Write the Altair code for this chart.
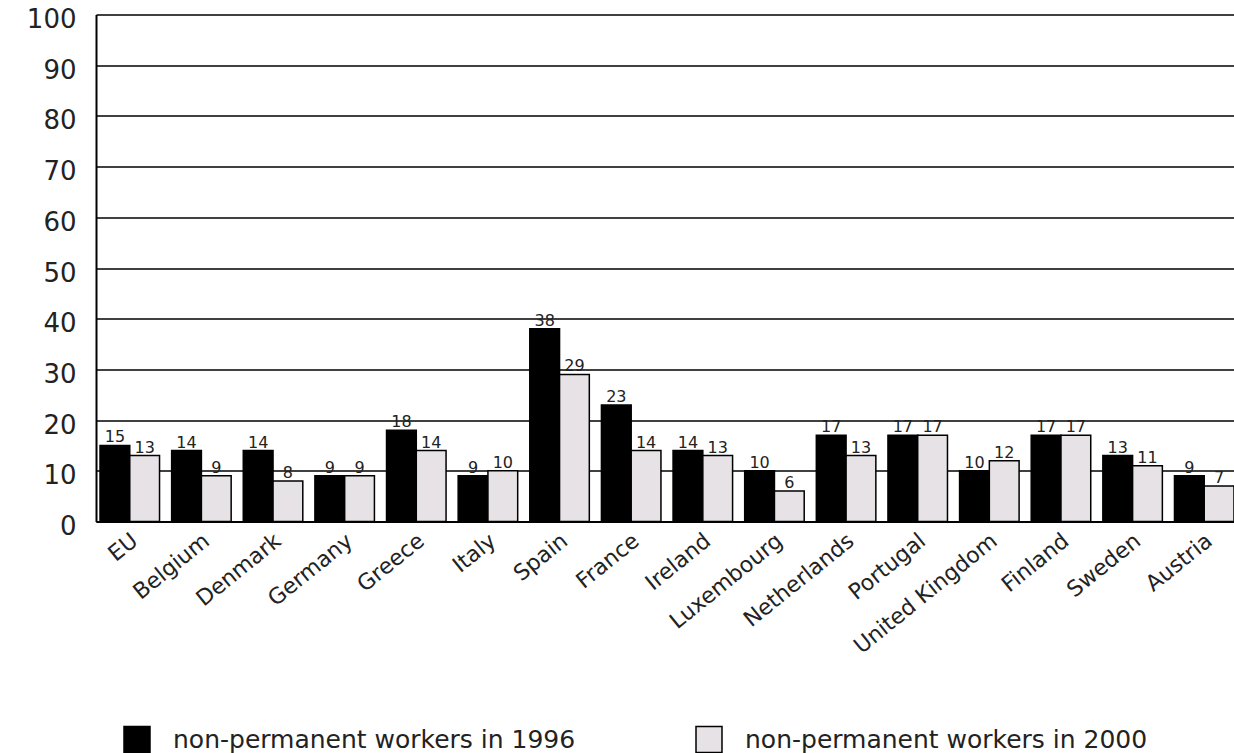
import altair as alt
import pandas as pd

countries = ["EU", "Belgium", "Denmark", "Germany", "Greece", "Italy", "Spain", "France",
             "Ireland", "Luxembourg", "Netherlands", "Portugal", "United Kingdom",
             "Finland", "Sweden", "Austria"]
v1996 = [15, 14, 14, 9, 18, 9, 38, 23, 14, 10, 17, 17, 10, 17, 13, 9]
v2000 = [13, 9, 8, 9, 14, 10, 29, 14, 13, 6, 13, 17, 12, 17, 11, 7]
series = ["non-permanent workers in 1996", "non-permanent workers in 2000"]
colors = ["#000000", "#e6e2e6"]
y_ticks = list(range(0, 101, 10))

rows = []
for c, a, b in zip(countries, v1996, v2000):
    rows.append({"country": c, "series": series[0], "value": a})
    rows.append({"country": c, "series": series[1], "value": b})
df = pd.DataFrame(rows)

FONT = "DejaVu Sans"

x = alt.X("country:N", sort=countries,
          scale=alt.Scale(paddingInner=0.169, paddingOuter=0.028, align=1),
          axis=alt.Axis(title=None, labelAngle=-39, labelAlign="right", labelBaseline="middle",
                        labelFont=FONT, labelFontSize=22, labelColor="#222", labelPadding=16,
                        labelOffset=5, ticks=False, domain=True, domainColor="black",
                        domainWidth=2, labelLimit=300))
xo = alt.XOffset("series:N", sort=series, scale=alt.Scale(paddingInner=0, paddingOuter=0))
y = alt.Y("value:Q", scale=alt.Scale(domain=[0, 100], nice=False),
          axis=alt.Axis(values=y_ticks, title=None, grid=True, gridColor="black", gridWidth=1.3,
                        gridOpacity=1, ticks=False, domainColor="black", domainWidth=2,
                        labelFont=FONT, labelFontSize=26, labelPadding=20, labelOffset=5,
                        labelColor="#222"))

bars = alt.Chart(df).mark_bar(stroke="black", strokeWidth=1.5, opacity=1).encode(
    x=x, xOffset=xo, y=y,
    color=alt.Color("series:N", scale=alt.Scale(domain=series, range=colors),
                    legend=alt.Legend(title=None, orient="none", legendX=27, legendY=711,
                                      direction="horizontal", symbolType="square",
                                      symbolSize=676, symbolStrokeColor="black",
                                      symbolStrokeWidth=1.5, symbolOpacity=1,
                                      labelFont=FONT, labelFontSize=25, labelColor="#222",
                                      labelOffset=22, columnPadding=117, labelLimit=600,
                                      padding=0))
)

labels = alt.Chart(df).mark_text(baseline="alphabetic", dy=-3, font=FONT, fontSize=16,
                                 color="#222").encode(
    x=x, xOffset=xo, y=y, text=alt.Text("value:Q")
)

chart = alt.layer(bars, labels).properties(
    width=1138, height=507,
    autosize=alt.AutoSizeParams(type="none"),
    padding={"left": 96, "top": 14.5, "right": 0, "bottom": 231.5},
).configure_view(stroke=None)

chart.save("out.html", embed_options={"renderer": "svg", "actions": False})
